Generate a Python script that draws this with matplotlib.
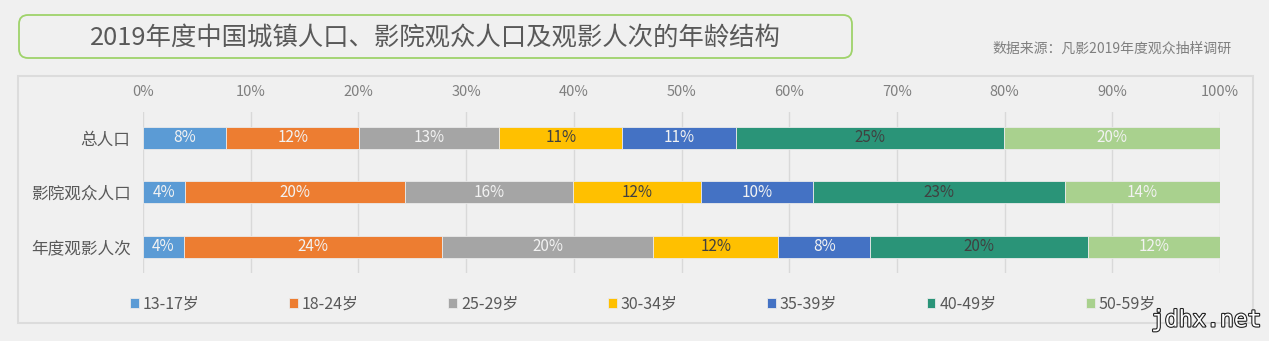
import numpy as np
import matplotlib.pyplot as plt
from matplotlib.patches import FancyBboxPatch, Rectangle
import matplotlib.patheffects as pe

plt.rcParams['font.family'] = ['Noto Sans CJK SC', 'DejaVu Sans']

# 数据
rows = ["总人口", "影院观众人口", "年度观影人次"]
ages = ["13-17岁", "18-24岁", "25-29岁", "30-34岁", "35-39岁", "40-49岁", "50-59岁"]
p_1317 = [7.7, 3.9, 3.8]
p_1824 = [12.4, 20.4, 24.0]
p_2529 = [13.0, 15.6, 19.6]
p_3034 = [11.4, 11.9, 11.6]
p_3539 = [10.6, 10.4, 8.5]
p_4049 = [24.8, 23.4, 20.2]
p_5059 = [20.1, 14.4, 12.3]
series = [p_1317, p_1824, p_2529, p_3034, p_3539, p_4049, p_5059]

colors = ["#5B9BD5", "#ED7D31", "#A5A5A5", "#FFC000", "#4472C4", "#2A9478", "#A9D18E"]
txt_colors = ["#f2f2f2", "#f2f2f2", "#f2f2f2", "#404040", "#f2f2f2", "#404040", "#f2f2f2"]
bg = "#f0f0f0"

W, H = 1269, 341
fig = plt.figure(figsize=(W / 100, H / 100), dpi=100, facecolor=bg)

# 外框 (像素坐标)
fig.patches.append(Rectangle((18, H - 323), 1253 - 18, 323 - 76, transform=None,
                             facecolor="none", edgecolor="#dcdcdc",
                             linewidth=1.5, zorder=-1))
# 标题框
fig.patches.append(FancyBboxPatch((19, H - 58), 852 - 19, 58 - 15,
                                  boxstyle="round,pad=0,rounding_size=9",
                                  transform=None, facecolor="none",
                                  edgecolor="#9fd36a", linewidth=1.3, zorder=-1))
fig.text(435 / W, 1 - 38 / H, "2019年度中国城镇人口、影院观众人口及观影人次的年龄结构",
         ha="center", va="center", fontsize=18.3, color="#595959")
fig.text(1232 / W, 1 - 49 / H, "数据来源：凡影2019年度观众抽样调研",
         ha="right", va="center", fontsize=10, color="#7f7f7f")

ax = fig.add_axes([143 / W, 1 - 273 / H, (1220 - 143) / W, (273 - 111.7) / H])
ax.set_facecolor(bg)

y = np.arange(len(rows))
left = np.zeros(len(rows))
handles = []
for vals, c, tc, lab in zip(series, colors, txt_colors, ages):
    vals = np.array(vals)
    b = ax.barh(y, vals, left=left, height=0.4, color=c, label=lab,
                edgecolor="#eaeaea", linewidth=0.6, zorder=3)
    handles.append(b)
    for yi, v, l in zip(y, vals, left):
        ax.text(l + v / 2, yi, f"{round(v)}%", ha="center", va="center",
                fontsize=11, color=tc, zorder=4)
    left += vals

ax.set_xlim(0, 100)
ax.set_ylim(2.48, -0.48)
ax.set_xticks(np.arange(0, 101, 10))
ax.set_xticklabels([f"{t}%" for t in range(0, 101, 10)])
ax.xaxis.tick_top()
ax.tick_params(axis="x", length=0, pad=9, labelsize=10.5, labelcolor="#7f7f7f")
ax.set_yticks(y)
ax.set_yticklabels(rows)
ax.tick_params(axis="y", length=0, pad=9, labelsize=12, labelcolor="#595959")
ax.grid(axis="x", color="#d9d9d9", linewidth=1, zorder=0)
for s in ax.spines.values():
    s.set_visible(False)

fig.legend(handles=handles, labels=ages, loc="center", ncol=7,
           bbox_to_anchor=(643 / W, 1 - 304 / H), frameon=False,
           fontsize=11.5, labelcolor="#595959", handlelength=0.55, handleheight=0.55,
           handletextpad=0.25, columnspacing=5.6)

# 水印
fig.text(1206 / W, 1 - 320 / H, "jdhx.net", ha="center", va="center", fontsize=16.5,
         family="DejaVu Sans Mono", color="white",
         path_effects=[pe.withStroke(linewidth=1.6, foreground="#222222")])

fig.savefig("out.png", dpi=100, facecolor=bg)
